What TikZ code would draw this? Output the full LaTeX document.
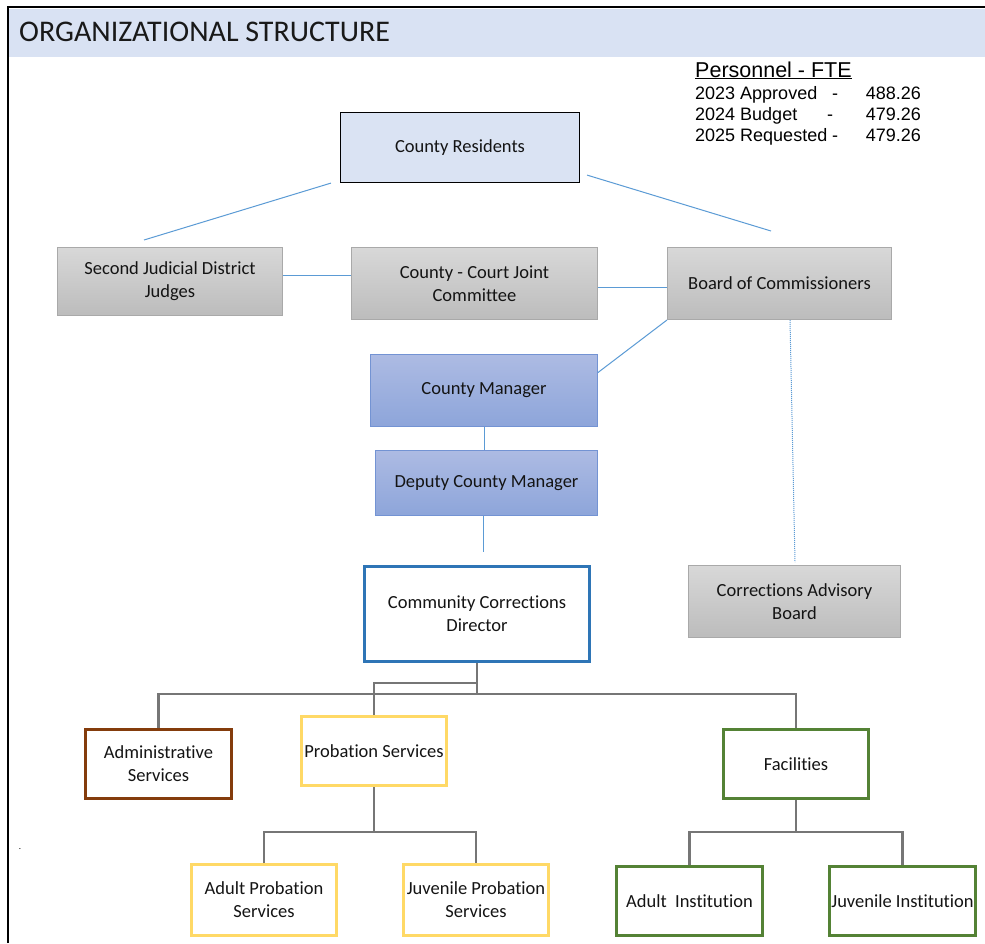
\documentclass[tikz,border=0pt]{standalone}
\usepackage{fontspec}
\setmainfont[Ligatures=NoCommon]{Carlito}
\newfontfamily\arialfont{Liberation Sans}
\usepackage{tikz}
\usetikzlibrary{calc}
\definecolor{cHead}{HTML}{D9E2F3}
\definecolor{cRes}{HTML}{DAE3F3}
\definecolor{cLink}{HTML}{5B9BD5}
\definecolor{cTree}{HTML}{767676}
\definecolor{cGrayT}{HTML}{D8D8D8}
\definecolor{cGrayB}{HTML}{BCBCBC}
\definecolor{cGrayE}{HTML}{A9A9A9}
\definecolor{cBlueT}{HTML}{ADBBE3}
\definecolor{cBlueB}{HTML}{8DA5DA}
\definecolor{cBlueE}{HTML}{7393D3}
\definecolor{cDir}{HTML}{2E75B6}
\definecolor{cAdm}{HTML}{843C0C}
\definecolor{cPro}{HTML}{FFD966}
\definecolor{cFac}{HTML}{548235}

\begin{document}
\begin{tikzpicture}[x=1pt, y=-1pt,
  box/.style={inner sep=0pt, align=center, text=black!92,
    font=\fontsize{18.5}{23}\selectfont},
  greybox/.style={box, draw=cGrayE, line width=1pt, top color=cGrayT, bottom color=cGrayB},
  mgrbox/.style={box, draw=cBlueE, line width=1pt, top color=cBlueT, bottom color=cBlueB},
  unit/.style={box, draw=#1, line width=3pt, fill=white},
  link/.style={cLink, line width=1pt},
  tree/.style={cTree, line width=2.2pt},
  fte/.style={inner sep=0pt, font=\arialfont\fontsize{18}{21}\selectfont}]
  \useasboundingbox (0,0) rectangle (985,943);
  \fill[white] (0,0) rectangle (985,943);
  % page frame and title band
  \fill[cHead] (9,9) rectangle (985,57);
  \draw[line width=1.4pt] (8,943) -- (8,7) -- (985,7);
  \node[anchor=base west, inner sep=0pt, text=black!90,
    font=\fontsize{30}{35}\selectfont] (title) at (19,41.5) {ORGANIZATIONAL STRUCTURE};

  % staffing summary
  \node[anchor=base west, inner sep=0pt, font=\arialfont\fontsize{21.5}{25}\selectfont]
    (fte) at (695,77) {\underline{Personnel - FTE}};
  \foreach \yr/\lab/\val/\yy/\dx in {2023/Approved/488.26/99/835, 2024/Budget/479.26/120/830,
      2025/Requested/479.26/141/835} {
    \node[fte, anchor=base west] (l\yr) at (695,\yy) {\yr\ \lab};
    \node[fte, anchor=base] (d\yr) at (\dx,\yy) {-};
    \node[fte, anchor=base east] (v\yr) at (921,\yy) {\val};
  }

  % governance
  \node[box, draw=black, line width=1.2pt, fill=cRes, minimum width=239, minimum height=70]
    (res) at (460,147.5) {County Residents};
  \node[greybox, minimum width=225, minimum height=68] (jud) at (170,281.5) {Second Judicial District\\Judges};
  \node[greybox, minimum width=246, minimum height=72] (crt) at (474.5,283.5) {County - Court Joint\\Committee};
  \node[greybox, minimum width=224, minimum height=72] (brd) at (779.5,283.5) {Board of Commissioners};
  \node[mgrbox, minimum width=227, minimum height=72] (mgr) at (484,390.5) {County Manager};
  \node[mgrbox, minimum width=222, minimum height=65] (dep) at (486.5,483) {Deputy County Manager};
  \node[greybox, minimum width=212, minimum height=72] (adv) at (794.5,601.5) {Corrections Advisory\\Board};
  \node[unit=cDir, minimum width=225, minimum height=95] (dir) at (477,614) {Community Corrections\\Director};

  \draw[link] ([xshift=-9pt]res.south west) -- ([xshift=-26pt,yshift=7pt]jud.north);
  \draw[link] ([xshift=7pt,yshift=8pt]res.south east) -- ([xshift=-8.5pt,yshift=16pt]brd.north);
  \draw[link] ([yshift=6.5pt]jud.east) -- ([yshift=6.5pt]jud.east -| crt.west);
  \draw[link] ([yshift=-4pt]crt.east) -- ([yshift=-4pt]crt.east -| brd.west);
  \draw[link] (brd.south west) -- ([yshift=18pt]mgr.east);
  \draw[link] (mgr.south) -- (mgr.south |- dep.north);
  \draw[link] ([xshift=-3.5pt]dep.south) -- ++(0,36);
  \draw[link, densely dotted] ([xshift=10.5pt]brd.south) -- ([xshift=0.5pt,yshift=3pt]adv.north);

  % divisions
  \node[unit=cAdm, minimum width=146, minimum height=69] (adm) at (158.5,764) {Administrative\\Services};
  \node[unit=cPro, minimum width=145, minimum height=69] (pro) at (374,751) {Probation Services};
  \node[unit=cFac, minimum width=145, minimum height=69] (fac) at (796,764) {Facilities};
  \node[unit=cPro, minimum width=145, minimum height=71] (apr) at (264,900) {Adult Probation\\Services};
  \node[unit=cPro, minimum width=145, minimum height=71] (jpr) at (476,900) {Juvenile Probation\\Services};
  \node[unit=cFac, minimum width=146, minimum height=69] (ain) at (689.5,901) {Adult\ \ Institution};
  \node[unit=cFac, minimum width=146, minimum height=69] (jin) at (902.5,901) {Juvenile Institution};

  \draw[tree] (dir.south) -- ++(0,31) coordinate (hub);
  \draw[tree] (adm.north) |- (hub) -| (fac.north);
  \draw[tree] (pro.north) |- ($(dir.south)+(0,20)$);
  \draw[tree] (pro.south) -- ++(0,45) coordinate (phub);
  \draw[tree] (apr.north) |- (phub) -| (jpr.north);
  \draw[tree] (fac.south) -- ++(0,32) coordinate (fhub);
  \draw[tree] (ain.north) |- (fhub) -| (jin.north);

  \node[inner sep=0pt, font=\small] (dot) at (20,849) {.};
\end{tikzpicture}
\end{document}
